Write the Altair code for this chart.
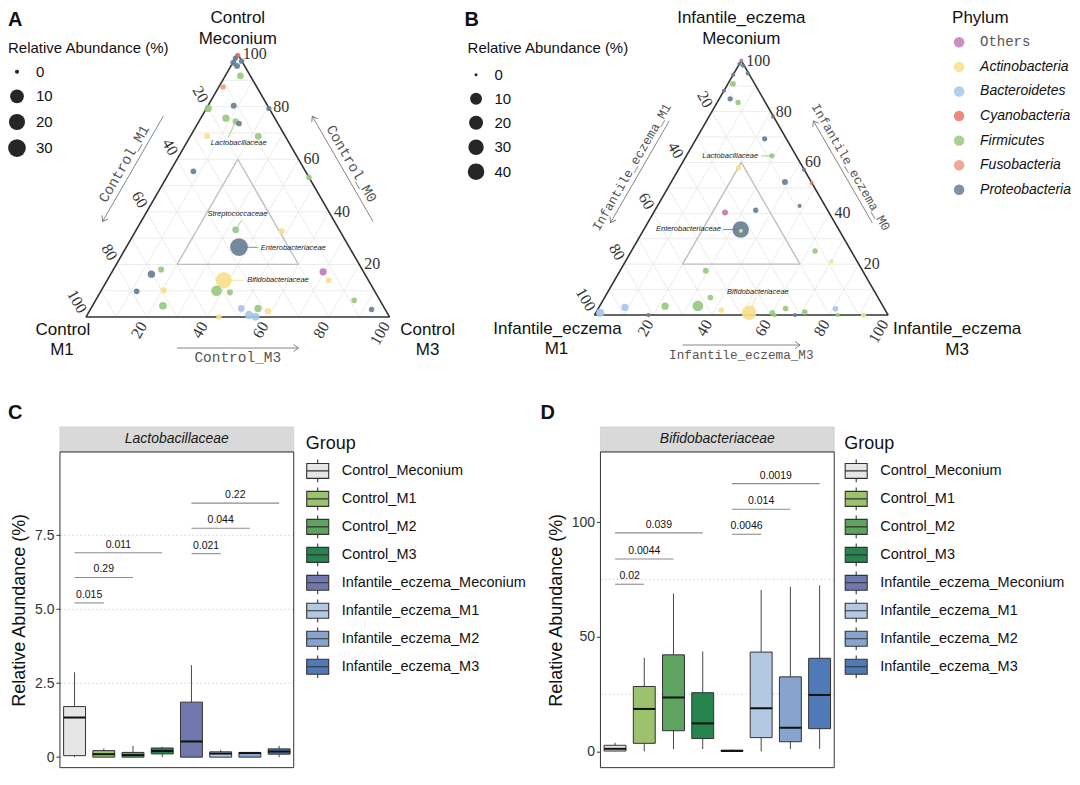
import altair as alt
import numpy as np
import pandas as pd

SQ3 = float(np.sqrt(3) / 2)

# ---------------------------------------------------------------- phyla
PHYLA = ["Others", "Actinobacteria", "Bacteroidetes", "Cyanobacteria",
         "Firmicutes", "Fusobacteria", "Proteobacteria"]
PHYLA_COLORS = ["#C27BB6", "#F7E08A", "#A6C7EA", "#E8746A",
                "#98C980", "#EE9985", "#677F96"]
PHYLUM_COLOR = dict(zip(PHYLA, PHYLA_COLORS))

# ---------------------------------------------------------------- panel A (Control)
A_M0 = [99.5, 96.7, 95.5, 97.3, 98.4, 91.7, 87.5, 79.3, 80.3, 79.3, 75.6, 74.4, 73.6,
        68.8, 68.7, 55.4, 53.1, 33.2, 32.7, 26.6, 17.2, 14.0, 16.3, 18.1, 14.0, 10.0,
        9.4, 9.8, 10.2, 4.3, 3.3, 3.3, 2.3, 0.8, 0.1, 0.0, 6.4, 2.9]
A_M1 = [0.3, 3.1, 2.5, 0.1, 1.6, 3.3, 11.1, 20.1, 11.2, 0.1, 16.1, 13.5, 12.8,
        25.7, 8.9, 36.9, 0.0, 34.1, 19.2, 36.3, 13.3, 13.1, 70.3, 66.2, 47.6, 52.0,
        47.9, 78.4, 69.3, 72.5, 47.2, 41.7, 38.9, 45.9, 44.1, 56.2, 8.5, 4.5]
A_M3 = [0.2, 0.2, 2.0, 2.6, 0.0, 5.0, 1.4, 0.6, 8.5, 20.6, 8.3, 12.1, 13.6,
        5.5, 22.4, 7.7, 46.9, 32.7, 48.1, 37.1, 69.5, 72.9, 13.4, 15.7, 38.4, 38.0,
        42.7, 11.8, 20.5, 23.2, 49.5, 55.0, 58.8, 53.3, 55.8, 43.8, 85.1, 92.6]
A_ABUND = [0.05, 0.12, 0.12, 0.05, 0.04, 0.27, 0.05, 0.44, 0.12, 0.03, 0.44, 0.15, 0.08,
           0.08, 0.27, 0.08, 0.05, 0.27, 0.15, 30, 0.44, 0.08, 0.44, 0.15, 20, 3.1,
           0.15, 0.08, 0.15, 0.6, 0.27, 0.44, 0.15, 0.9, 0.6, 0.05, 0.08, 0.05]
A_PHYLUM = ["Cyanobacteria", "Proteobacteria", "Proteobacteria", "Proteobacteria",
            "Proteobacteria", "Firmicutes", "Fusobacteria", "Firmicutes", "Proteobacteria",
            "Proteobacteria", "Firmicutes", "Firmicutes", "Proteobacteria", "Actinobacteria",
            "Firmicutes", "Proteobacteria", "Firmicutes", "Firmicutes", "Actinobacteria",
            "Proteobacteria", "Others", "Actinobacteria", "Proteobacteria", "Firmicutes",
            "Actinobacteria", "Firmicutes", "Firmicutes", "Proteobacteria", "Actinobacteria",
            "Firmicutes", "Bacteroidetes", "Firmicutes", "Actinobacteria", "Bacteroidetes",
            "Bacteroidetes", "Actinobacteria", "Firmicutes", "Proteobacteria"]
A_FAM = ["Lactobacillaceae", "Streptococcaceae", "Enterobacteriaceae", "Bifidobacteriaceae"]
A_FAM_M0 = [66.0, 39.0, 26.4, 14.0]
A_FAM_M1 = [16.7, 30.6, 29.2, 39.9]
A_FAM_M3 = [17.3, 30.4, 44.4, 46.1]
A_FAM_ALIGN = ["center", "center", "left", "left"]
A_LEAD_FROM = [(74.4, 13.5, 12.1), (33.2, 34.1, 32.7), (26.6, 36.3, 37.1), (14.0, 47.6, 38.4)]
A_LEAD_TO = [(68.2, 19.1, 12.7), (36.7, 30.45, 32.85), (26.5, 30.2, 43.3), (14.0, 41.0, 45.0)]
A_LEAD_PHY = ["Firmicutes", "Firmicutes", "Proteobacteria", "Actinobacteria"]

# ---------------------------------------------------------------- panel B (Infantile eczema)
B_M0 = [100.0, 98.7, 98.0, 95.0, 94.5, 90.9, 88.2, 85.0, 83.6, 78.0, 69.3, 62.6, 57.9,
        57.1, 52.3, 51.9, 42.9, 40.3, 41.2, 33.6, 33.1, 25.2, 21.1, 17.4, 6.9, 3.6,
        3.5, 3.0, 0.9, 0.0, 2.0, 0.9, 0.9, 0.0, 2.6, 0.0, 1.2, 2.5, 0.0, 0.0]
B_M1 = [0.0, 1.3, 0.4, 0.3, 5.5, 7.4, 11.8, 11.3, 9.3, 0.2, 7.4, 8.3, 22.0,
        0.1, 9.0, 0.1, 8.7, 35.4, 24.5, 33.4, 33.6, 12.3, 8.8, 53.4, 57.1, 63.0,
        74.2, 88.1, 97.6, 81.6, 55.8, 46.9, 39.0, 38.7, 33.6, 31.7, 27.8, 16.7, 17.2, 8.4]
B_M3 = [0.0, 0.0, 1.6, 4.7, 0.0, 1.7, 0.0, 3.7, 7.1, 21.8, 23.3, 29.1, 20.1,
        42.8, 38.7, 48.0, 48.4, 24.3, 34.3, 33.0, 33.3, 62.5, 70.1, 29.2, 36.0, 33.4,
        22.3, 8.9, 1.5, 18.4, 42.2, 52.2, 60.1, 61.3, 63.8, 68.3, 71.0, 80.8, 82.8, 91.6]
B_ABUND = [0.04, 0.04, 0.04, 0.04, 0.04, 0.39, 0.04, 0.21, 0.21, 0.04, 0.21, 0.21, 0.21,
           0.04, 0.39, 0.02, 0.04, 0.4, 0.21, 40, 0.02, 0.3, 0.04, 0.39, 0.3, 6.2,
           1.1, 1.1, 1.7, 0.04, 0.3, 24, 0.3, 0.04, 0.3, 0.04, 0.3, 0.3, 0.04, 0.21]
B_PHYLUM = ["Others", "Proteobacteria", "Proteobacteria", "Proteobacteria", "Proteobacteria",
            "Firmicutes", "Proteobacteria", "Proteobacteria", "Firmicutes", "Proteobacteria",
            "Proteobacteria", "Firmicutes", "Actinobacteria", "Proteobacteria", "Proteobacteria",
            "Cyanobacteria", "Proteobacteria", "Others", "Proteobacteria", "Proteobacteria",
            "Actinobacteria", "Firmicutes", "Actinobacteria", "Firmicutes", "Firmicutes",
            "Firmicutes", "Firmicutes", "Bacteroidetes", "Bacteroidetes", "Proteobacteria",
            "Actinobacteria", "Actinobacteria", "Firmicutes", "Firmicutes", "Firmicutes",
            "Proteobacteria", "Firmicutes", "Bacteroidetes", "Firmicutes", "Actinobacteria"]
B_FAM = ["Lactobacillaceae", "Enterobacteriaceae", "Bifidobacteriaceae"]
B_FAM_M0 = [62.6, 34.0, 8.9]
B_FAM_M1 = [13.0, 39.95, 39.9]
B_FAM_M3 = [24.4, 26.05, 51.2]
B_FAM_ALIGN = ["right", "right", "center"]
B_LEAD_FROM = [(62.6, 8.3, 29.1), (33.6, 33.4, 33.0), (0.9, 46.85, 52.25)]
B_LEAD_TO = [(62.6, 12.0, 25.4), (33.6, 39.4, 27.0), (7.06, 41.4, 51.5)]
B_LEAD_PHY = ["Firmicutes", "Proteobacteria", "Actinobacteria"]

TICKS = [20, 40, 60, 80, 100]
GRID_STEPS = [10, 20, 30, 40, 50, 60, 70, 80, 90]
CORE_MIN = 20

# ---------------------------------------------------------------- panels C / D
GROUPS = ["Control_Meconium", "Control_M1", "Control_M2", "Control_M3",
          "Infantile_eczema_Meconium", "Infantile_eczema_M1",
          "Infantile_eczema_M2", "Infantile_eczema_M3"]
GROUP_COLORS = ["#E5E6E5", "#9DC26D", "#5EA35F", "#26844F",
                "#6F78AD", "#B3C8E3", "#86A4CD", "#4F79B7"]

C_LOWER = [0, 0, 0, 0, 0, 0, 0, 0]
C_Q1 = [0.05, 0.0, 0.0, 0.11, 0.0, 0.0, 0.0, 0.10]
C_MED = [1.34, 0.10, 0.07, 0.21, 0.53, 0.12, 0.14, 0.19]
C_Q3 = [1.71, 0.22, 0.16, 0.31, 1.86, 0.18, 0.16, 0.28]
C_UPPER = [2.87, 0.29, 0.38, 0.35, 3.11, 0.25, 0.16, 0.38]
C_BR_FROM = ["Control_Meconium", "Control_Meconium", "Control_Meconium",
             "Infantile_eczema_Meconium", "Infantile_eczema_Meconium", "Infantile_eczema_Meconium"]
C_BR_TO = ["Control_M1", "Control_M2", "Control_M3",
           "Infantile_eczema_M1", "Infantile_eczema_M2", "Infantile_eczema_M3"]
C_BR_Y = [5.215, 6.075, 6.91, 6.88, 7.74, 8.59]
C_BR_P = ["0.015", "0.29", "0.011", "0.021", "0.044", "0.22"]
C_TICKS = [0, 2.5, 5.0, 7.5]
C_GRID = [2.5, 5.0, 7.5]

D_LOWER = [0, 0, 1.0, 1.0, 0, 0, 1.0, 1.1]
D_Q1 = [0.15, 3.5, 9.0, 5.6, 0.0, 6.0, 4.2, 9.9]
D_MED = [1.12, 18.5, 23.5, 12.2, 0.2, 18.8, 10.3, 24.6]
D_Q3 = [2.65, 28.3, 42.1, 25.6, 0.5, 43.3, 32.5, 40.6]
D_UPPER = [3.76, 40.8, 68.8, 43.6, 0.8, 70.4, 71.8, 72.4]
D_BR_FROM = C_BR_FROM
D_BR_TO = C_BR_TO
D_BR_Y = [72.9, 83.9, 95.3, 94.7, 105.6, 116.8]
D_BR_P = ["0.02", "0.0044", "0.039", "0.0046", "0.014", "0.0019"]
D_TICKS = [0, 50, 100]
D_GRID = [25, 75]

SANS = "Liberation Sans"
SERIF = "Liberation Serif"
MONO = "Liberation Mono"

LEFT_GUTTER = 52   # room kept left of the C / A views for axis title and panel letters


# ---------------------------------------------------------------- helpers
def tern(m0, m1, m3):
    m0 = np.asarray(m0, float)
    m1 = np.asarray(m1, float)
    m3 = np.asarray(m3, float)
    s = m0 + m1 + m3
    return (m3 + m0 / 2) / s * 100.0, m0 * SQ3 / s * 100.0


def seg(a, b):
    x, y = tern(*a)
    x2, y2 = tern(*b)
    return {"x": float(x), "y": float(y), "x2": float(x2), "y2": float(y2)}


def edge_pt(edge, t, n=0.0):
    if edge == "left":      # M1 axis, grows toward the lower-left corner
        bx, by, nx, ny = 50 - t / 2, (100 - t) * SQ3, -SQ3, 0.5
    elif edge == "right":   # M0 axis, grows toward the top corner
        bx, by, nx, ny = 100 - t / 2, t * SQ3, SQ3, 0.5
    else:                   # M3 axis, grows toward the lower-right corner
        bx, by, nx, ny = t, 0.0, 0.0, -1.0
    return bx + n * nx, by + n * ny


ARROW = "M-1,-0.7L0,0L-1,0.7"
EDGE_STYLE = {
    "left": dict(title_angle=300, head_angle=120, tick_angle=60, tick_align="right", tick_dx=-6,
                 title_n=14.2, arrow_n=11.0),
    "right": dict(title_angle=60, head_angle=240, tick_angle=0, tick_align="left", tick_dx=5,
                  title_n=14.2, arrow_n=11.0),
    "bottom": dict(title_angle=0, head_angle=0, tick_angle=300, tick_align="right", tick_dx=-7,
                   title_n=13.6, arrow_n=10.2),
}


def ternary(cfg, m0, m1, m3, abund, phylum, fam, fam_m0, fam_m1, fam_m3, fam_align,
            lead_from, lead_to, lead_phy):
    W, H, k, bx, by = cfg["W"], cfg["H"], cfg["k"], cfg["bx"], cfg["by"]
    xs = alt.Scale(domain=[-bx / k, (W - bx) / k], nice=False, zero=False)
    ys = alt.Scale(domain=[-(H - by) / k, by / k], nice=False, zero=False)
    X = alt.X("x:Q", scale=xs, axis=None)
    Y = alt.Y("y:Q", scale=ys, axis=None)
    X2 = alt.X2("x2:Q")
    Y2 = alt.Y2("y2:Q")
    layers = []

    # grid
    grid = []
    for g in GRID_STEPS:
        grid.append(seg((g, 100 - g, 0), (g, 0, 100 - g)))
        grid.append(seg((100 - g, g, 0), (0, g, 100 - g)))
        grid.append(seg((100 - g, 0, g), (0, 100 - g, g)))
    layers.append(alt.Chart(pd.DataFrame(grid)).mark_rule(color="#EAEAEA", strokeWidth=0.9)
                  .encode(x=X, y=Y, x2=X2, y2=Y2))

    # central region
    c = CORE_MIN
    hi = 100 - 2 * c
    core = [(hi, c, c), (c, hi, c), (c, c, hi)]
    layers.append(alt.Chart(pd.DataFrame([seg(core[i], core[(i + 1) % 3]) for i in range(3)]))
                  .mark_rule(color="#BDBDBD", strokeWidth=1.3)
                  .encode(x=X, y=Y, x2=X2, y2=Y2))

    # outer triangle
    outer = [(100, 0, 0), (0, 100, 0), (0, 0, 100)]
    layers.append(alt.Chart(pd.DataFrame([seg(outer[i], outer[(i + 1) % 3]) for i in range(3)]))
                  .mark_rule(color="#333333", strokeWidth=1.6)
                  .encode(x=X, y=Y, x2=X2, y2=Y2))

    # leader lines for the labelled families
    ld = []
    for a, b, ph in zip(lead_from, lead_to, lead_phy):
        s = seg(a, b)
        s["col"] = PHYLUM_COLOR[ph]
        ld.append(s)
    layers.append(alt.Chart(pd.DataFrame(ld)).mark_rule(strokeWidth=0.9)
                  .encode(x=X, y=Y, x2=X2, y2=Y2, color=alt.Color("col:N", scale=None)))

    # points
    px, py = tern(m0, m1, m3)
    pts = pd.DataFrame({"x": px, "y": py, "abund": abund, "phylum": phylum})
    size_legend = alt.Legend(
        title="Relative Abundance (%)", orient="none", legendX=cfg["size_lx"], legendY=33,
        values=cfg["size_values"], titleFontSize=15, titleFontWeight="normal", titleColor="#111",
        labelFontSize=15, labelColor="#111", symbolFillColor="#262626", symbolStrokeWidth=0,
        symbolOpacity=1, symbolType="circle", rowPadding=cfg["size_row"], labelOffset=10,
        titlePadding=cfg["size_tpad"], padding=0)
    if cfg["color_legend"]:
        color_legend = alt.Legend(
            title="Phylum", orient="none", legendX=cfg["color_lx"], legendY=2,
            titleFontSize=17, titleFontWeight="normal", titleColor="#111",
            labelFontSize=14, symbolType="circle", symbolSize=110,
            symbolStrokeWidth=0, symbolOpacity=0.85, rowPadding=10.6, labelOffset=14,
            titlePadding=8, padding=0,
            labelFontStyle={"expr": "datum.label === 'Others' ? 'normal' : 'italic'"},
            labelFont={"expr": "datum.label === 'Others' ? '" + MONO + "' : '" + SANS + "'"},
            labelColor={"expr": "datum.label === 'Others' ? '#555555' : '#111111'"})
    else:
        color_legend = None
    layers.append(alt.Chart(pts).mark_circle(opacity=0.92, strokeWidth=0).encode(
        x=X, y=Y,
        size=alt.Size("abund:Q", scale=alt.Scale(type="sqrt", domain=cfg["size_domain"],
                                                  range=cfg["size_range"]),
                      legend=size_legend),
        color=alt.Color("phylum:N", scale=alt.Scale(domain=PHYLA, range=PHYLA_COLORS),
                        legend=color_legend),
        order=alt.Order("abund:Q", sort="descending")))

    # family labels
    fx, fy = tern(fam_m0, fam_m1, fam_m3)
    fdf = pd.DataFrame({"x": fx, "y": fy, "t": fam, "al": fam_align})
    for al in ["left", "center", "right"]:
        sub = fdf[fdf["al"] == al]
        if len(sub):
            layers.append(alt.Chart(sub).mark_text(align=al, baseline="middle", fontSize=7.5,
                                                   fontStyle="italic", color="#222222")
                          .encode(x=X, y=Y, text="t:N"))

    # tick labels and axis titles with arrows
    for edge in ["left", "right", "bottom"]:
        st = EDGE_STYLE[edge]
        tl = []
        for v in TICKS:
            x, y = edge_pt(edge, v)
            tl.append({"x": x, "y": y, "t": str(v)})
        layers.append(alt.Chart(pd.DataFrame(tl)).mark_text(
            angle=st["tick_angle"], align=st["tick_align"], baseline="middle", dx=st["tick_dx"],
            font=SERIF, fontSize=16, color="#333333").encode(x=X, y=Y, text="t:N"))

        tx, ty = edge_pt(edge, 50, st["title_n"])
        layers.append(alt.Chart(pd.DataFrame([{"x": tx, "y": ty, "t": cfg["axis_names"][edge]}]))
                      .mark_text(angle=st["title_angle"], align="center", baseline="middle",
                                 font=MONO, fontSize=cfg["axis_font"], color="#555555")
                      .encode(x=X, y=Y, text="t:N"))

        ax0, ay0 = edge_pt(edge, 30, st["arrow_n"])
        ax1, ay1 = edge_pt(edge, 70, st["arrow_n"])
        layers.append(alt.Chart(pd.DataFrame([{"x": ax0, "y": ay0, "x2": ax1, "y2": ay1}]))
                      .mark_rule(color="#777777", strokeWidth=0.9)
                      .encode(x=X, y=Y, x2=X2, y2=Y2))
        layers.append(alt.Chart(pd.DataFrame([{"x": ax1, "y": ay1}]))
                      .mark_point(shape=ARROW, angle=st["head_angle"], size=100, filled=False,
                                  color="#777777", strokeWidth=0.9, opacity=1)
                      .encode(x=X, y=Y))

    # corner labels
    verts = {"top": (50.0, 100 * SQ3), "left": (0.0, 0.0), "right": (100.0, 0.0)}
    cl = []
    for corner, lines in cfg["corners"].items():
        vx, vy = verts[corner]
        for text, dx, dy in lines:
            cl.append({"x": vx + dx / k, "y": vy - dy / k, "t": text})
    layers.append(alt.Chart(pd.DataFrame(cl)).mark_text(
        align="center", baseline="middle", fontSize=17, color="#111111")
        .encode(x=X, y=Y, text="t:N"))

    # panel letter
    layers.append(alt.Chart(pd.DataFrame({"t": [cfg["letter"]]})).mark_text(
        align="left", baseline="top", fontSize=20, fontWeight="bold", color="#111111")
        .encode(x=alt.value(cfg["letter_x"]), y=alt.value(2), text="t:N"))

    return alt.layer(*layers).properties(width=W, height=H)


PANEL_H = 316
STRIP_H = 25


def box_panel(strip_title, lower, q1, med, q3, upper, br_from, br_to, br_y, br_p,
              ylo, yhi, ticks, grid_vals, lab_expr, W, letter, letter_dx, legend_dx):
    k = PANEL_H / (yhi - ylo)
    ytop = yhi + STRIP_H / k
    n = len(GROUPS)
    xs = alt.Scale(domain=[0.5, n + 0.5], nice=False, zero=False)
    ys = alt.Scale(domain=[ylo, ytop], nice=False, zero=False)
    yaxis = alt.Axis(values=ticks, labelExpr=lab_expr, title="Relative Abundance (%)",
                     titleFontSize=18, titleFontWeight="normal", titleColor="#111111",
                     labelFontSize=14, labelColor="#333333", tickColor="#333333", tickSize=4,
                     domain=False, grid=False, labelPadding=2, titlePadding=6,
                     titleY=STRIP_H + PANEL_H / 2)

    def XQ(f):
        return alt.X(f + ":Q", scale=xs, axis=None)

    def YQ(f):
        return alt.Y(f + ":Q", scale=ys, axis=yaxis)

    idx = {g: i + 1 for i, g in enumerate(GROUPS)}
    df = pd.DataFrame({"group": GROUPS, "i": [idx[g] for g in GROUPS], "lower": lower,
                       "q1": q1, "med": med, "q3": q3, "upper": upper})
    df["xl"] = df["i"] - 0.375
    df["xr"] = df["i"] + 0.375

    layers = []
    layers.append(alt.Chart(pd.DataFrame({"g": grid_vals})).mark_rule(
        strokeDash=[1.5, 2.5], color="#C8C8C8", strokeWidth=0.8).encode(y=YQ("g")))
    frame = pd.DataFrame({"x": [0.5], "x2": [n + 0.5], "y": [ylo], "y2": [yhi],
                          "sy": [yhi], "sy2": [ytop], "mx": [(n + 1) / 2],
                          "my": [(yhi + ytop) / 2], "t": [strip_title]})
    layers.append(alt.Chart(frame).mark_rect(fill="#D9D9D9", stroke="#CFCFCF", strokeWidth=0.8)
                  .encode(x=XQ("x"), x2="x2:Q", y=YQ("sy"), y2="sy2:Q"))
    layers.append(alt.Chart(frame).mark_text(fontSize=14, fontStyle="italic", color="#1A1A1A",
                                             baseline="middle")
                  .encode(x=XQ("mx"), y=YQ("my"), text="t:N"))
    layers.append(alt.Chart(df).mark_rule(color="#333333", strokeWidth=0.9)
                  .encode(x=XQ("i"), y=YQ("lower"), y2="upper:Q"))
    group_legend = alt.Legend(
        title="Group", orient="none", legendX=W + legend_dx, legendY=8,
        titleFontSize=18, titleFontWeight="normal", titleColor="#111111",
        labelFontSize=14.5, labelColor="#111111", labelOffset=12, titlePadding=6,
        labelLimit=400,
        symbolType="M-0.97,-0.66H0.97V0.66H-0.97Z M-0.97,0H0.97 M0,-1V-0.66 M0,0.66V1",
        symbolSize=515, symbolStrokeColor="#333333", symbolStrokeWidth=1.1, symbolOpacity=1,
        rowPadding=0, padding=0)
    layers.append(alt.Chart(df).mark_rect(stroke="#333333", strokeWidth=1, opacity=1)
                  .encode(x=XQ("xl"), x2="xr:Q", y=YQ("q1"), y2="q3:Q",
                          color=alt.Color("group:N", scale=alt.Scale(domain=GROUPS,
                                                                      range=GROUP_COLORS),
                                          legend=group_legend)))
    layers.append(alt.Chart(df).mark_rule(color="#111111", strokeWidth=2)
                  .encode(x=XQ("xl"), x2="xr:Q", y=YQ("med")))
    br = pd.DataFrame({"a": [idx[g] for g in br_from], "b": [idx[g] for g in br_to],
                       "y": br_y, "p": br_p})
    br["m"] = (br["a"] + br["b"]) / 2
    layers.append(alt.Chart(br).mark_rule(color="#8C8C8C", strokeWidth=1.1)
                  .encode(x=XQ("a"), x2="b:Q", y=YQ("y")))
    layers.append(alt.Chart(br).mark_text(fontSize=10.5, dy=-8, color="#111111",
                                          baseline="middle")
                  .encode(x=XQ("m"), y=YQ("y"), text="p:N"))
    layers.append(alt.Chart(frame).mark_rect(fillOpacity=0, stroke="#333333", strokeWidth=1)
                  .encode(x=XQ("x"), x2="x2:Q", y=YQ("y"), y2="y2:Q"))
    layers.append(alt.Chart(pd.DataFrame({"t": [letter]})).mark_text(
        align="left", baseline="top", fontSize=20, fontWeight="bold", color="#111111")
        .encode(x=alt.value(letter_dx), y=alt.value(-24), text="t:N"))
    return alt.layer(*layers).properties(width=W, height=STRIP_H + PANEL_H)


A_CFG = dict(W=403, H=385, k=3.04, bx=26, by=309, letter="A", letter_x=-LEFT_GUTTER,
             size_lx=-LEFT_GUTTER, size_values=[0, 10, 20, 30], size_domain=[0, 30],
             size_range=[17, 314], size_row=8.6, size_tpad=8,
             color_legend=False, color_lx=0, axis_font=14.5,
             axis_names={"left": "Control_M1", "right": "Control_M0", "bottom": "Control_M3"},
             corners={"top": [("Control", 0, -36), ("Meconium", 0, -15)],
                      "left": [("Control", -23, 13), ("M1", -24, 33)],
                      "right": [("Control", 38, 13), ("M3", 38, 33)]})
B_CFG = dict(W=609, H=385, k=2.94, bx=132, by=307, letter="B", letter_x=2,
             size_lx=5, size_values=[0, 10, 20, 30, 40], size_domain=[0, 40], size_range=[9, 274],
             size_row=8.0, size_tpad=11,
             color_legend=True, color_lx=490, axis_font=12.7,
             axis_names={"left": "Infantile_eczema_M1", "right": "Infantile_eczema_M0",
                         "bottom": "Infantile_eczema_M3"},
             corners={"top": [("Infantile_eczema", 0, -43), ("Meconium", 0, -22)],
                      "left": [("Infantile_eczema", -37, 14), ("M1", -38, 34)],
                      "right": [("Infantile_eczema", 69, 14), ("M3", 69, 35)]})

chart_a = ternary(A_CFG, A_M0, A_M1, A_M3, A_ABUND, A_PHYLUM, A_FAM, A_FAM_M0, A_FAM_M1,
                  A_FAM_M3, A_FAM_ALIGN, A_LEAD_FROM, A_LEAD_TO, A_LEAD_PHY)
chart_b = ternary(B_CFG, B_M0, B_M1, B_M3, B_ABUND, B_PHYLUM, B_FAM, B_FAM_M0, B_FAM_M1,
                  B_FAM_M3, B_FAM_ALIGN, B_LEAD_FROM, B_LEAD_TO, B_LEAD_PHY)

chart_c = box_panel("Lactobacillaceae", C_LOWER, C_Q1, C_MED, C_Q3, C_UPPER,
                    C_BR_FROM, C_BR_TO, C_BR_Y, C_BR_P, -0.355, 10.32, C_TICKS, C_GRID,
                    "datum.value === 0 ? '0' : format(datum.value, '.1f')",
                    234, "C", -LEFT_GUTTER, 12)
chart_d = box_panel("Bifidobacteriaceae", D_LOWER, D_Q1, D_MED, D_Q3, D_UPPER,
                    D_BR_FROM, D_BR_TO, D_BR_Y, D_BR_P, -7.1, 130.6, D_TICKS, D_GRID,
                    "format(datum.value, 'd')",
                    234, "D", -60, 10)

top = alt.hconcat(chart_a, chart_b, spacing=0).resolve_scale(color="independent",
                                                             size="independent")
bottom = alt.hconcat(chart_c, chart_d, spacing=14).resolve_scale(color="independent")
chart = (alt.vconcat(top, bottom, spacing=10)
         .resolve_scale(color="independent", size="independent")
         .properties(padding=0)
         .configure(font=SANS)
         .configure_view(stroke=None))

chart.save("out.html", embed_options={"renderer": "svg", "actions": False})
